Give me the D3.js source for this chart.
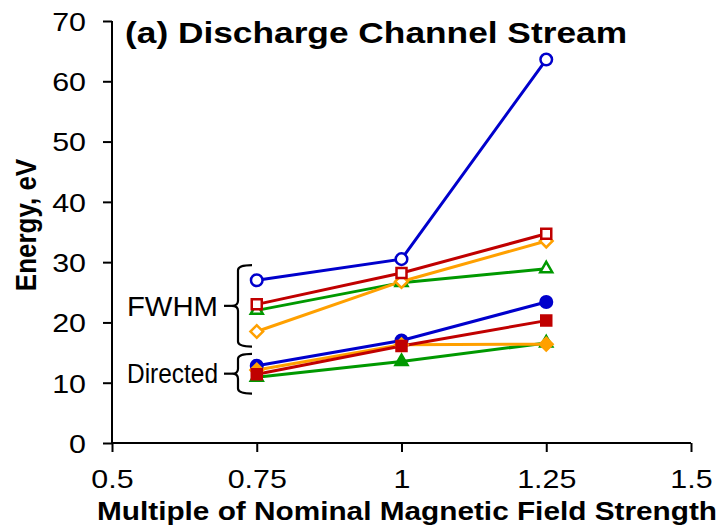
<!DOCTYPE html>
<html>
<head>
<meta charset="utf-8">
<script src="https://cdn.jsdelivr.net/npm/d3@7"></script>
<style>
  html, body { margin: 0; padding: 0; background: #fff; }
  text { font-family: "Liberation Sans", Arial, sans-serif; fill: #000; }
</style>
</head>
<body>
<svg id="chart" width="720" height="530"></svg>
<script>
// Field strength multiples (x positions of the measurements)
const fieldMultiples = [0.75, 1, 1.25];

// FWHM energies (eV)
const fwhmBlue   = [27.0, 30.5, 63.6];
const fwhmRed    = [23.0, 28.2, 34.7];
const fwhmGreen  = [22.0, 26.6, 28.9];
const fwhmOrange = [18.5, 26.8, 33.5];

// Directed energies (eV)
const dirBlue   = [12.8, 17.0, 23.4];
const dirRed    = [11.4, 16.1, 20.3];
const dirGreen  = [10.9, 13.5, 16.6];
const dirOrange = [12.1, 16.3, 16.4];

const xTicks = [0.5, 0.75, 1, 1.25, 1.5];
const yTicks = [0, 10, 20, 30, 40, 50, 60, 70];

// Brace extents for the two groups (eV)
const fwhmBrace = [16.0, 29.5];
const dirBrace  = [8.2, 14.8];

const colors = { blue: "#0000cc", red: "#c00000", green: "#009900", orange: "#ffa000" };

const series = [
  { values: fwhmGreen,  color: colors.green,  shape: "triangle", filled: false },
  { values: fwhmOrange, color: colors.orange, shape: "diamond",  filled: false },
  { values: fwhmBlue,   color: colors.blue,   shape: "circle",   filled: false },
  { values: fwhmRed,    color: colors.red,    shape: "square",   filled: false },
  { values: dirGreen,   color: colors.green,  shape: "triangle", filled: true },
  { values: dirBlue,    color: colors.blue,   shape: "circle",   filled: true },
  { values: dirOrange,  color: colors.orange, shape: "diamond",  filled: true },
  { values: dirRed,     color: colors.red,    shape: "square",   filled: true }
];

const SX = 1.17;   // horizontal widening of the lettering
const svg = d3.select("#chart");
const x = d3.scaleLinear().domain([0.5, 1.5]).range([112, 691]);
const y = d3.scaleLinear().domain([0, 70]).range([443, 21]);

// Axes
const xAxis = d3.axisBottom(x).tickValues(xTicks).tickSize(9).tickFormat(d => String(d));
const yAxis = d3.axisLeft(y).tickValues(yTicks).tickSize(9);

const gx = svg.append("g").attr("transform", `translate(0,${y(0)})`).call(xAxis);
const gy = svg.append("g").attr("transform", `translate(${x(0.5)},0)`).call(yAxis);
[gx, gy].forEach(g => {
  g.selectAll("path.domain").attr("stroke", "#000").attr("stroke-width", 2);
  g.selectAll(".tick line").attr("stroke", "#000").attr("stroke-width", 2);
  g.selectAll(".tick text").attr("fill", "#000")
    .style("font-family", "'Liberation Sans', Arial, sans-serif").style("font-size", "26px");
});
gx.select("path.domain").attr("d", `M${x(0.5)},0H${x(1.5)}`);
gy.select("path.domain").attr("d", `M0,${y(70)}V${y(0)}`);
gx.selectAll(".tick text")
  .attr("y", 0).attr("dy", 0)
  .attr("transform", `translate(0,45) scale(${SX},1)`);
gy.selectAll(".tick text")
  .attr("x", 0).attr("dy", "0.36em")
  .attr("transform", `translate(-26,0) scale(${SX},1)`);

// Lines and markers
const line = d3.line().x((d, i) => x(fieldMultiples[i])).y(d => y(d));
const symbolFor = {
  circle:   d3.symbol().type(d3.symbolCircle).size(105),
  square:   d3.symbol().type(d3.symbolSquare).size(100),
  triangle: d3.symbol().type(d3.symbolTriangle).size(62),
  diamond:  d3.symbol().type(d3.symbolSquare).size(80)
};

series.forEach(s => {
  svg.append("path").datum(s.values)
    .attr("d", line).attr("fill", "none")
    .attr("stroke", s.color).attr("stroke-width", 3);
});
series.forEach(s => {
  svg.append("g").selectAll("path").data(s.values).join("path")
    .attr("transform", (d, i) => `translate(${x(fieldMultiples[i])},${y(d)})` +
      (s.shape === "diamond" ? " rotate(45)" : ""))
    .attr("d", symbolFor[s.shape])
    .attr("fill", s.filled ? s.color : "#fff")
    .attr("stroke", s.color).attr("stroke-width", 2.5);
});

// Curly braces grouping the two sets of curves
function brace(top, bottom, xv, depth, arm) {
  const m = (top + bottom) / 2;
  const r = 5;
  return `M${xv + arm},${top} Q${xv},${top} ${xv},${top + r}` +
         ` V${m - r} Q${xv},${m} ${xv - depth},${m}` +
         ` Q${xv},${m} ${xv},${m + r}` +
         ` V${bottom - r} Q${xv},${bottom} ${xv + arm},${bottom}`;
}
function drawBrace(range, label, width) {
  const top = y(range[1]), bottom = y(range[0]);
  const m = (top + bottom) / 2;
  svg.append("path").attr("d", brace(top, bottom, 238, 6, 14))
    .attr("fill", "none").attr("stroke", "#000").attr("stroke-width", 2.2);
  svg.append("line").attr("x1", 224).attr("x2", 232).attr("y1", m).attr("y2", m)
    .attr("stroke", "#000").attr("stroke-width", 2.2);
  svg.append("text").attr("x", 218 - width).attr("y", m).attr("dy", "0.36em")
    .attr("textLength", width).attr("lengthAdjust", "spacingAndGlyphs")
    .style("font-size", "27px").text(label);
}
drawBrace(fwhmBrace, "FWHM", 91);
drawBrace(dirBrace, "Directed", 91);

// Titles
svg.append("text").attr("x", 125).attr("y", 43)
  .attr("textLength", 502).attr("lengthAdjust", "spacingAndGlyphs")
  .style("font-size", "30px").style("font-weight", "bold")
  .text("(a) Discharge Channel Stream");
svg.append("text").attr("x", 97).attr("y", 520)
  .attr("textLength", 620).attr("lengthAdjust", "spacingAndGlyphs")
  .style("font-size", "25px").style("font-weight", "bold")
  .text("Multiple of Nominal Magnetic Field Strength");
svg.append("text").attr("transform", `translate(36,225) scale(${SX},1) rotate(-90)`)
  .attr("text-anchor", "middle")
  .style("font-size", "26px").style("font-weight", "bold")
  .text("Energy, eV");
</script>
</body>
</html>
